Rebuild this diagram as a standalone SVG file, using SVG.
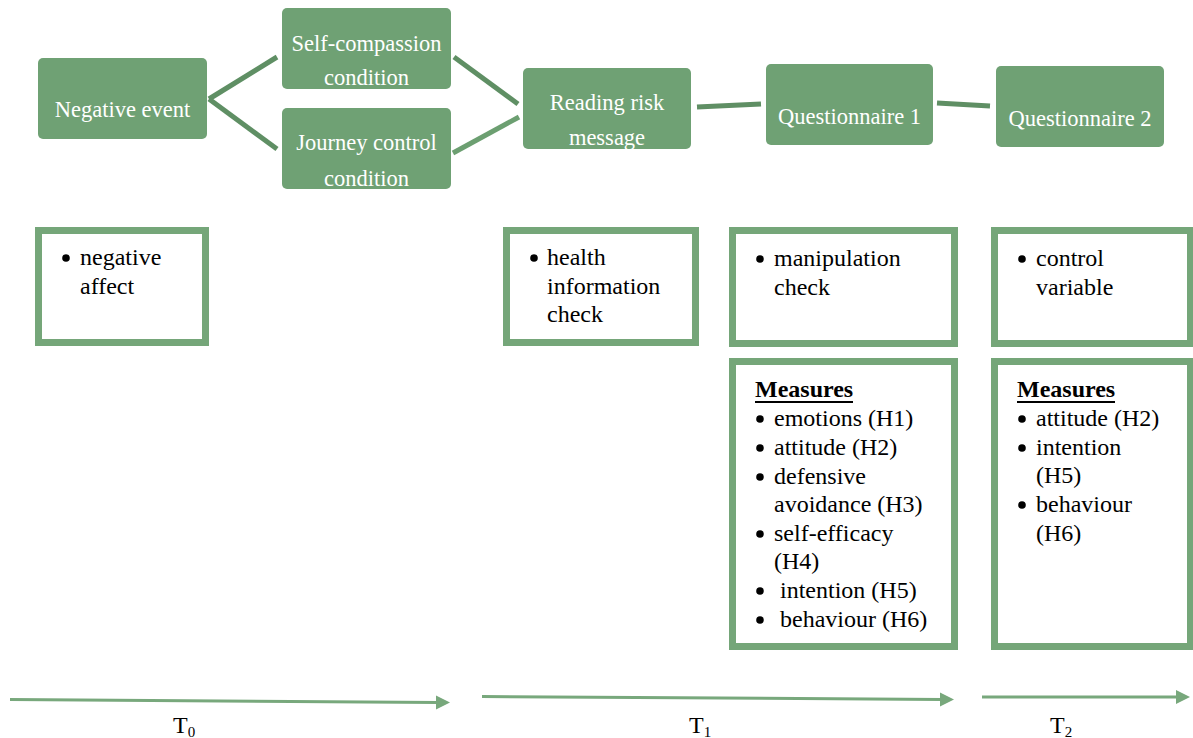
<svg xmlns="http://www.w3.org/2000/svg" width="1193" height="738" viewBox="0 0 1193 738">
<style>
.node{fill:#6fa174;}
.nt{font-family:'Liberation Serif','Times New Roman',serif;font-size:22.5px;fill:#ffffff;text-anchor:middle;}
.box{fill:#ffffff;stroke:#75a679;stroke-width:7;}
.bt{font-family:'Liberation Serif','Times New Roman',serif;font-size:24px;fill:#000000;}
.bu{fill:#000000;}
.hd{font-family:'Liberation Serif','Times New Roman',serif;font-size:24px;font-weight:bold;fill:#000000;}
.conn{stroke:#5f8f64;stroke-width:5;fill:none;}
.conn2{stroke:#6c9f71;stroke-width:5;fill:none;}
.tl{stroke:#78a87c;stroke-width:3;fill:none;}
.ah{fill:#78a87c;}
.tlab{font-family:'Liberation Serif','Times New Roman',serif;font-size:24px;fill:#000000;}
</style>
<g id="connectors">
<line class="conn" x1="209" y1="99" x2="277" y2="57"/>
<line class="conn" x1="209" y1="99" x2="277" y2="149"/>
<line class="conn" x1="454" y1="57" x2="518" y2="104"/>
<line class="conn2" x1="453" y1="153" x2="519" y2="117"/>
<line class="conn" x1="697" y1="107" x2="761" y2="104"/>
<line class="conn" x1="937" y1="103" x2="990" y2="106"/>
</g>
<g id="n-negative-event">
<rect class="node" x="38" y="58" width="169" height="81" rx="5"/>
<text class="nt" x="122.5" y="117">Negative event</text>
</g>
<g id="n-self-compassion">
<rect class="node" x="282" y="8" width="169" height="81" rx="5"/>
<text class="nt" x="366.5" y="51">Self-compassion</text>
<text class="nt" x="366.5" y="85">condition</text>
</g>
<g id="n-journey-control">
<rect class="node" x="282" y="108" width="169" height="81" rx="5"/>
<text class="nt" x="366.5" y="150">Journey control</text>
<text class="nt" x="366.5" y="186">condition</text>
</g>
<g id="n-reading-risk">
<rect class="node" x="523" y="68" width="168" height="81" rx="5"/>
<text class="nt" x="607" y="110">Reading risk</text>
<text class="nt" x="607" y="145">message</text>
</g>
<g id="n-questionnaire-1">
<rect class="node" x="766" y="64" width="167" height="81" rx="5"/>
<text class="nt" x="849.5" y="124">Questionnaire 1</text>
</g>
<g id="n-questionnaire-2">
<rect class="node" x="996" y="66" width="168" height="81" rx="5"/>
<text class="nt" x="1080" y="126">Questionnaire 2</text>
</g>
<g id="b-negative-affect">
<rect class="box" x="38.5" y="230.5" width="167" height="112"/>
<circle class="bu" cx="66" cy="258" r="3.8"/>
<text class="bt" x="80" y="265">negative</text>
<text class="bt" x="80" y="294">affect</text>
</g>
<g id="b-health-check">
<rect class="box" x="506.5" y="230.5" width="189" height="112"/>
<circle class="bu" cx="534" cy="258" r="3.8"/>
<text class="bt" x="547" y="265">health</text>
<text class="bt" x="547" y="294">information</text>
<text class="bt" x="547" y="322">check</text>
</g>
<g id="b-manipulation-check">
<rect class="box" x="732.5" y="230.5" width="222" height="113"/>
<circle class="bu" cx="760" cy="259" r="3.8"/>
<text class="bt" x="774" y="266">manipulation</text>
<text class="bt" x="774" y="295">check</text>
</g>
<g id="b-control-variable">
<rect class="box" x="994.5" y="230.5" width="196" height="113"/>
<circle class="bu" cx="1022" cy="259" r="3.8"/>
<text class="bt" x="1036" y="266">control</text>
<text class="bt" x="1036" y="295">variable</text>
</g>
<g id="b-measures-1">
<rect class="box" x="732.5" y="361.5" width="222" height="285"/>
<text class="hd" x="755" y="397">Measures</text>
<line x1="755" y1="402" x2="853" y2="402" stroke="#000000" stroke-width="2"/>
<circle class="bu" cx="760" cy="419" r="3.8"/>
<text class="bt" x="774" y="426">emotions (H1)</text>
<circle class="bu" cx="760" cy="448" r="3.8"/>
<text class="bt" x="774" y="455">attitude (H2)</text>
<circle class="bu" cx="760" cy="477" r="3.8"/>
<text class="bt" x="774" y="484">defensive</text>
<text class="bt" x="774" y="512">avoidance (H3)</text>
<circle class="bu" cx="760" cy="534" r="3.8"/>
<text class="bt" x="774" y="541">self-efficacy</text>
<text class="bt" x="774" y="569">(H4)</text>
<circle class="bu" cx="760" cy="591" r="3.8"/>
<text class="bt" x="780" y="598">intention (H5)</text>
<circle class="bu" cx="760" cy="620" r="3.8"/>
<text class="bt" x="780" y="627">behaviour (H6)</text>
</g>
<g id="b-measures-2">
<rect class="box" x="994.5" y="361.5" width="196" height="285"/>
<text class="hd" x="1017" y="397">Measures</text>
<line x1="1017" y1="402" x2="1115" y2="402" stroke="#000000" stroke-width="2"/>
<circle class="bu" cx="1022" cy="419" r="3.8"/>
<text class="bt" x="1036" y="426">attitude (H2)</text>
<circle class="bu" cx="1022" cy="448" r="3.8"/>
<text class="bt" x="1036" y="455">intention</text>
<text class="bt" x="1036" y="483">(H5)</text>
<circle class="bu" cx="1022" cy="505" r="3.8"/>
<text class="bt" x="1036" y="512">behaviour</text>
<text class="bt" x="1036" y="541">(H6)</text>
</g>
<g id="timeline">
<line class="tl" x1="10" y1="699.5" x2="438" y2="702.5"/>
<polygon class="ah" points="436,695.5 450,702.5 436,709.5"/>
<line class="tl" x1="482" y1="696.5" x2="942" y2="699.5"/>
<polygon class="ah" points="940,692.5 954,699.5 940,706.5"/>
<line class="tl" x1="982" y1="697" x2="1178" y2="697"/>
<polygon class="ah" points="1176,690 1190,697 1176,704"/>
<text class="tlab" x="173" y="733">T<tspan font-size="15" dy="4">0</tspan></text>
<text class="tlab" x="689" y="733">T<tspan font-size="15" dy="4">1</tspan></text>
<text class="tlab" x="1050" y="733">T<tspan font-size="15" dy="4">2</tspan></text>
</g>
</svg>
